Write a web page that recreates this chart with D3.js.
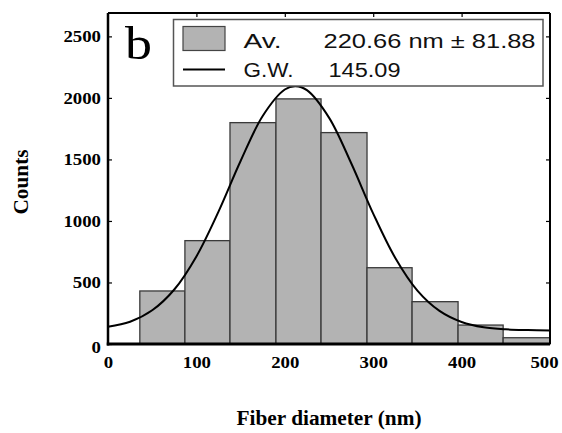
<!DOCTYPE html>
<html>
<head>
<meta charset="utf-8">
<script src="https://cdn.jsdelivr.net/npm/d3@7"></script>
<style>
  body { margin: 0; background: #fff; }
  svg { display: block; }
</style>
</head>
<body>
<div id="chart"></div>
<script>
// histogram bins (nm) and counts
const binEdges = [36, 87, 138, 190, 241, 293, 344, 396, 447, 500];
const counts = [431, 840, 1799, 1992, 1718, 620, 344, 154, 51];

// gauss fit line
const fitX = [0, 25, 50, 75, 100, 125, 150, 175, 200, 212, 225, 250, 275, 300, 325, 350, 375, 400, 425, 450, 475, 500];
const fitY = [140, 181, 274, 443, 712, 1076, 1487, 1853, 2068, 2095, 2063, 1840, 1471, 1060, 699, 434, 269, 179, 136, 119, 113, 110];

const xTicks = [0, 100, 200, 300, 400, 500];
const yTicks = [0, 500, 1000, 1500, 2000, 2500];

const legendRows = [
  {kind: "bar", label: "Av.", value: "220.66 nm \u00b1 81.88"},
  {kind: "line", label: "G.W.", value: "145.09"}
];

const serif = "'Liberation Serif', 'Times New Roman', serif";
const sans = "'Liberation Sans', Arial, sans-serif";

const W = 562, H = 433;
const margin = {top: 13, right: 12, bottom: 89, left: 108};
const width = W - margin.left - margin.right,
  height = H - margin.top - margin.bottom;

const svg = d3.select("#chart")
  .append("svg")
  .attr("width", W)
  .attr("height", H);

const g = svg.append("g")
  .attr("transform", `translate(${margin.left}, ${margin.top})`);

const x = d3.scaleLinear().domain([0, 500]).range([0, width]);
const y = d3.scaleLinear().domain([0, 2690]).range([height, 0]);
const fmt = d3.format("d");

// bars
g.append("g")
  .selectAll("rect")
  .data(counts)
  .enter()
  .append("rect")
    .attr("x", (d, i) => x(binEdges[i]))
    .attr("width", (d, i) => x(binEdges[i + 1]) - x(binEdges[i]))
    .attr("y", d => y(d))
    .attr("height", d => y(0) - y(d))
    .attr("fill", "#b3b3b3")
    .attr("stroke", "#3a3a3a")
    .attr("stroke-width", 1.3);

// fit curve
const line = d3.line()
  .x((d, i) => x(fitX[i]))
  .y(d => y(d))
  .curve(d3.curveCatmullRom);

g.append("path")
  .datum(fitY)
  .attr("d", line)
  .attr("fill", "none")
  .attr("stroke", "#000")
  .attr("stroke-width", 2);

// axes
const xAxis = g.append("g")
  .attr("transform", `translate(0, ${height})`)
  .call(d3.axisBottom(x).tickValues(xTicks).tickFormat(fmt).tickSize(0).tickPadding(13));
xAxis.select(".domain").remove();
xAxis.selectAll(".tick text")
  .attr("font-family", serif)
  .attr("font-weight", "bold")
  .attr("font-size", 16)
  .attr("fill", "#000")
  .attr("textLength", d => fmt(d).length * 9.4)
  .attr("lengthAdjust", "spacingAndGlyphs")
  .attr("dx", d => d === 500 ? -6 : 0);

const yAxis = g.append("g")
  .call(d3.axisLeft(y).tickValues(yTicks).tickFormat(fmt).tickSizeInner(-4).tickSizeOuter(0).tickPadding(7));
yAxis.select(".domain").remove();
yAxis.selectAll(".tick line").attr("stroke", "#000").attr("stroke-width", 1.2);
yAxis.selectAll(".tick text")
  .attr("font-family", serif)
  .attr("font-weight", "bold")
  .attr("font-size", 16)
  .attr("fill", "#000")
  .attr("textLength", d => fmt(d).length * 9.4)
  .attr("lengthAdjust", "spacingAndGlyphs")
  .attr("dy", d => d === 0 ? "0.55em" : "0.32em");

// inner ticks on top and right border
const topAxis = g.append("g")
  .call(d3.axisTop(x).tickValues([100, 200, 300, 400]).tickSizeInner(-4).tickSizeOuter(0).tickFormat(""));
topAxis.select(".domain").remove();
topAxis.selectAll(".tick line").attr("stroke-width", 1.2);

const rightAxis = g.append("g")
  .attr("transform", `translate(${width}, 0)`)
  .call(d3.axisRight(y).tickValues(yTicks.slice(1)).tickSizeInner(-4).tickSizeOuter(0).tickFormat(""));
rightAxis.select(".domain").remove();
rightAxis.selectAll(".tick line").attr("stroke-width", 1.2);

// frame
g.append("line").attr("x1", 0).attr("x2", width).attr("y1", 0).attr("y2", 0)
  .attr("stroke", "#000").attr("stroke-width", 2);
g.append("line").attr("x1", width).attr("x2", width).attr("y1", 0).attr("y2", height)
  .attr("stroke", "#000").attr("stroke-width", 2);
g.append("line").attr("x1", 0).attr("x2", 0).attr("y1", 0).attr("y2", height + 1.5)
  .attr("stroke", "#000").attr("stroke-width", 2.5);
g.append("line").attr("x1", -1.25).attr("x2", width).attr("y1", height).attr("y2", height)
  .attr("stroke", "#000").attr("stroke-width", 3.2);

// legend
const lg = svg.append("g").attr("transform", "translate(173.5, 19.5)");
lg.append("rect")
  .attr("width", 369.5).attr("height", 66.5)
  .attr("fill", "#fff")
  .attr("stroke", "#555")
  .attr("stroke-width", 1.5);

const rows = lg.selectAll(".row")
  .data(legendRows)
  .enter()
  .append("g")
    .attr("class", "row")
    .attr("transform", (d, i) => `translate(0, ${i * 29.5})`);

rows.filter(d => d.kind === "bar").append("rect")
  .attr("x", 9.5).attr("y", 7).attr("width", 42).attr("height", 24)
  .attr("fill", "#b3b3b3").attr("stroke", "#444").attr("stroke-width", 1.2);
rows.filter(d => d.kind === "line").append("line")
  .attr("x1", 9.5).attr("x2", 51.5).attr("y1", 20.5).attr("y2", 20.5)
  .attr("stroke", "#000").attr("stroke-width", 1.8);

rows.append("text")
  .attr("x", 70).attr("y", 28)
  .attr("font-family", sans)
  .attr("font-size", 20)
  .attr("fill", "#111")
  .attr("textLength", d => d.label === "Av." ? 38 : 50)
  .attr("lengthAdjust", "spacingAndGlyphs")
  .text(d => d.label);
rows.append("text")
  .attr("x", (d, i) => i === 0 ? 150 : 155)
  .attr("y", 28)
  .attr("font-family", sans)
  .attr("font-size", 20)
  .attr("fill", "#111")
  .attr("textLength", (d, i) => i === 0 ? 212 : 72)
  .attr("lengthAdjust", "spacingAndGlyphs")
  .text(d => d.value);

// panel letter
svg.append("text")
  .attr("x", 125).attr("y", 59)
  .attr("font-family", serif)
  .attr("font-size", 46)
  .attr("fill", "#000")
  .attr("textLength", 27)
  .attr("lengthAdjust", "spacingAndGlyphs")
  .text("b");

// axis titles
svg.append("text")
  .attr("x", margin.left + width / 2)
  .attr("y", 425)
  .attr("text-anchor", "middle")
  .attr("font-family", serif)
  .attr("font-weight", "bold")
  .attr("font-size", 20)
  .attr("textLength", 185)
  .attr("lengthAdjust", "spacingAndGlyphs")
  .text("Fiber diameter (nm)");

svg.append("text")
  .attr("transform", "translate(28, 182) rotate(-90)")
  .attr("text-anchor", "middle")
  .attr("font-family", serif)
  .attr("font-weight", "bold")
  .attr("font-size", 21)
  .attr("textLength", 65)
  .attr("lengthAdjust", "spacingAndGlyphs")
  .text("Counts");
</script>
</body>
</html>
